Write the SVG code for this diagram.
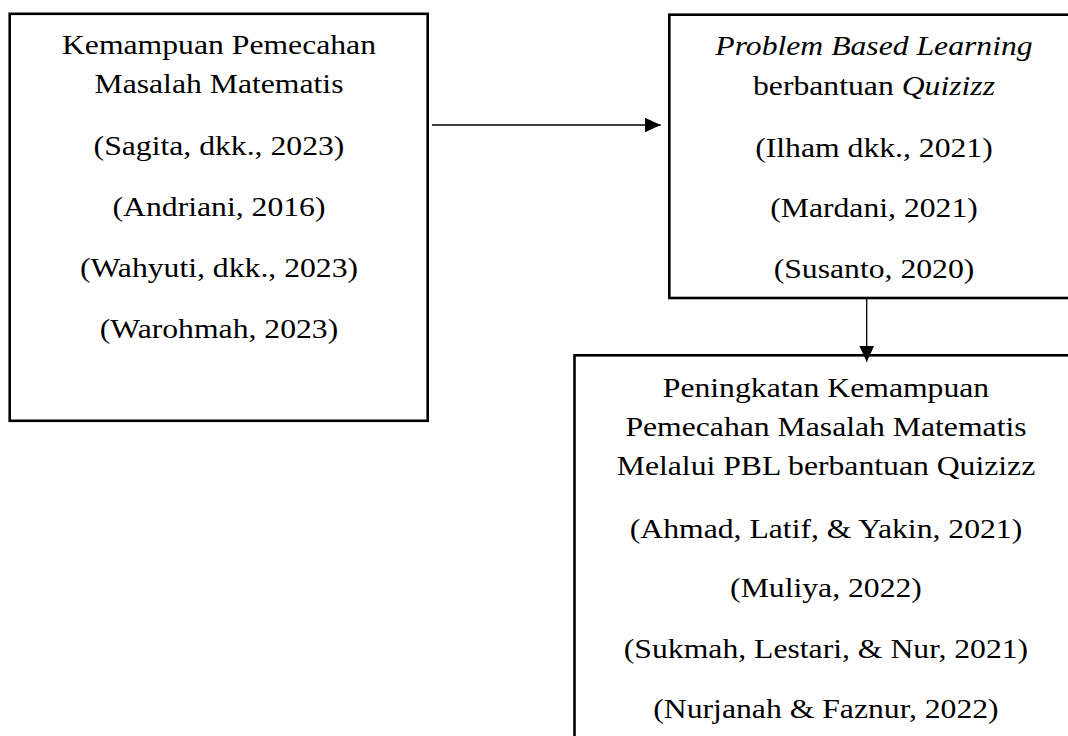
<svg xmlns="http://www.w3.org/2000/svg" width="1068" height="736" viewBox="0 0 1068 736">
  <defs>
    <style>
      .box { fill: #ffffff; stroke: #000000; stroke-width: 2.6; }
      .t { font-family: "Liberation Serif", "Times New Roman", serif; font-size: 28px; fill: #000000; text-anchor: middle; }
      .i { font-style: italic; }
      .conn { stroke: #000000; stroke-width: 1.3; fill: none; }
    </style>
    <marker id="arrow" viewBox="0 0 16 16" refX="16" refY="8" markerWidth="16" markerHeight="16" markerUnits="userSpaceOnUse" orient="auto">
      <path d="M0,0.5 L16,8 L0,15.5 Z" fill="#000000"/>
    </marker>
  </defs>
  <rect width="1068" height="736" fill="#ffffff"/>

  <g id="node-kemampuan">
    <rect class="box" x="9.7" y="13.8" width="418" height="407"/>
    <g transform="scale(1.132,1)">
      <text class="t" x="193.46" y="54.3">Kemampuan Pemecahan</text>
      <text class="t" x="193.46" y="93.3">Masalah Matematis</text>
      <text class="t" x="193.46" y="155">(Sagita, dkk., 2023)</text>
      <text class="t" x="193.46" y="216.5">(Andriani, 2016)</text>
      <text class="t" x="193.46" y="277">(Wahyuti, dkk., 2023)</text>
      <text class="t" x="193.46" y="338">(Warohmah, 2023)</text>
    </g>
  </g>

  <g id="node-pbl">
    <rect class="box" x="669.3" y="14.7" width="420" height="283.3"/>
    <g transform="scale(1.132,1)">
      <text class="t" x="772.08" y="55"><tspan class="i">Problem Based Learning</tspan></text>
      <text class="t" x="772.08" y="95">berbantuan <tspan class="i">Quizizz</tspan></text>
      <text class="t" x="772.08" y="157">(Ilham dkk., 2021)</text>
      <text class="t" x="772.08" y="217">(Mardani, 2021)</text>
      <text class="t" x="772.08" y="278">(Susanto, 2020)</text>
    </g>
  </g>

  <g id="node-peningkatan">
    <rect class="box" x="574.5" y="355.3" width="520" height="400"/>
    <g transform="scale(1.132,1)">
      <text class="t" x="729.68" y="396.7">Peningkatan Kemampuan</text>
      <text class="t" x="729.68" y="435.7">Pemecahan Masalah Matematis</text>
      <text class="t" x="729.68" y="475">Melalui PBL berbantuan Quizizz</text>
      <text class="t" x="729.68" y="538">(Ahmad, Latif, &amp; Yakin, 2021)</text>
      <text class="t" x="729.68" y="596.7">(Muliya, 2022)</text>
      <text class="t" x="729.68" y="658">(Sukmah, Lestari, &amp; Nur, 2021)</text>
      <text class="t" x="729.68" y="718">(Nurjanah &amp; Faznur, 2022)</text>
    </g>
  </g>

  <g id="connectors">
    <line class="conn" x1="432" y1="125" x2="660.7" y2="125" marker-end="url(#arrow)"/>
    <line class="conn" x1="866.7" y1="298" x2="866.7" y2="361.7" marker-end="url(#arrow)"/>
  </g>
</svg>
